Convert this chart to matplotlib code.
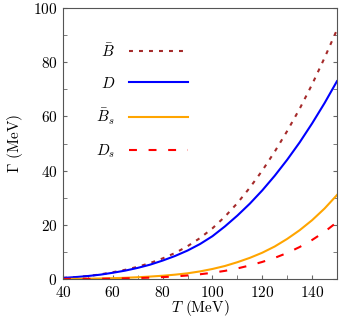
import matplotlib
matplotlib.use("Agg")
import matplotlib.pyplot as plt
import numpy as np

T = [40, 45, 50, 55, 60, 65, 70, 75, 80, 85, 90, 95, 100,
     105, 110, 115, 120, 125, 130, 135, 140, 145, 150]
gamma_Bbar = [0.4, 0.7, 1.1, 1.7, 2.5, 3.4, 4.5, 5.9, 7.6, 9.6, 12.1, 15.1, 18.7,
              23.0, 28.0, 33.7, 40.0, 47.0, 54.6, 62.8, 71.8, 81.6, 92.0]
gamma_D = [0.4, 0.7, 1.1, 1.6, 2.3, 3.1, 4.1, 5.3, 6.8, 8.5, 10.5, 12.9, 15.8,
           19.4, 23.4, 27.8, 32.7, 38.1, 44.0, 50.4, 57.4, 64.9, 73.0]
gamma_Bbar_s = [0.0, 0.05, 0.1, 0.2, 0.3, 0.45, 0.65, 0.9, 1.2, 1.6, 2.1, 2.8, 3.7,
                4.8, 6.2, 7.8, 9.7, 12.0, 14.8, 18.0, 21.7, 26.0, 31.0]
gamma_D_s = [0.0, 0.02, 0.05, 0.1, 0.15, 0.25, 0.35, 0.5, 0.7, 0.95, 1.3, 1.75, 2.3,
             3.0, 3.9, 5.0, 6.3, 7.8, 9.6, 11.8, 14.4, 17.4, 21.0]
labels = [r"$\bar{B}$", r"$D$", r"$\bar{B}_s$", r"$D_s$"]

plt.rcParams["font.family"] = "serif"
plt.rcParams["font.serif"] = ["cmr10", "DejaVu Serif"]
plt.rcParams["mathtext.fontset"] = "cm"
plt.rcParams["axes.formatter.use_mathtext"] = True

fig = plt.figure(figsize=(3.39, 3.21), dpi=100)
ax = fig.add_axes([63/339, 42/321, 274/339, 271/321])

lw = 1.5
ax.plot(T, gamma_Bbar, color="#a52a2a", lw=lw, linestyle=(0, (1.9, 2.9)), label=labels[0])
ax.plot(T, gamma_D, color="#0000ff", lw=lw, label=labels[1])
ax.plot(T, gamma_Bbar_s, color="#ffa500", lw=lw, label=labels[2])
ax.plot(T, gamma_D_s, color="#ff0000", lw=lw, linestyle=(0, (3.8, 5.6)), label=labels[3])

ax.set_xlim(40, 150)
ax.set_ylim(0, 100)
ax.set_xticks([40, 60, 80, 100, 120, 140])
ax.set_xticks(np.arange(50, 150, 20), minor=True)
ax.set_yticks([0, 20, 40, 60, 80, 100])
ax.set_yticks(np.arange(10, 100, 20), minor=True)
ax.tick_params(which="both", direction="in", length=3, color="#666666",
               labelsize=11, right=True, top=False, pad=4)
for s in ax.spines.values():
    s.set_color("#555555")
    s.set_linewidth(0.8)

ax.set_xlabel(r"$T$ (MeV)", fontsize=11, labelpad=-1)
ax.set_ylabel(r"$\Gamma$ (MeV)", fontsize=11, labelpad=6)

leg = ax.legend(loc="upper left", bbox_to_anchor=(0.07, 0.925), frameon=False,
                markerfirst=False, fontsize=11, handlelength=3.9,
                labelspacing=1.05, handletextpad=0.9)

fig.savefig("out.png", dpi=100)
